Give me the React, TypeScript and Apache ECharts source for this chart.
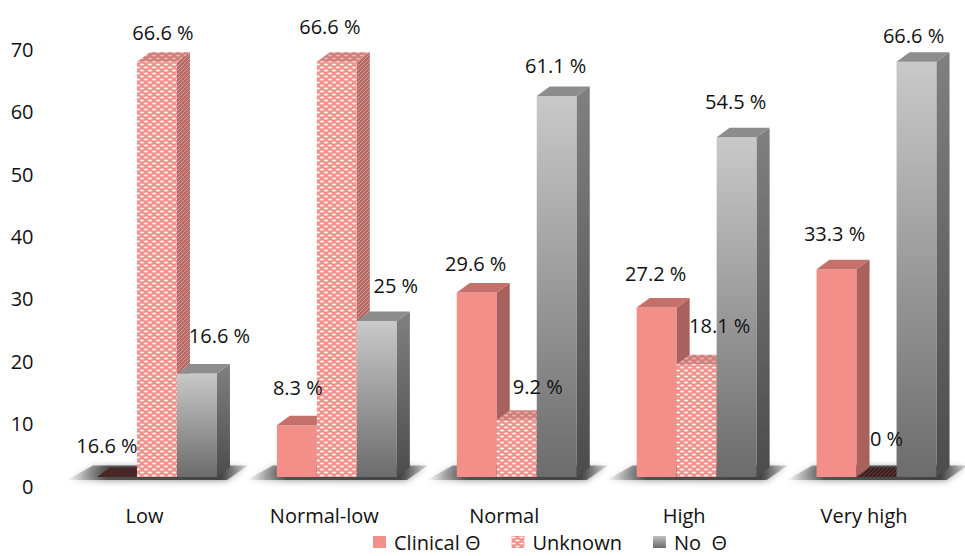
import React, { useEffect, useRef } from 'react';
import * as echarts from 'echarts';

// Categories and the three groups
const categories = ['Low', 'Normal-low', 'Normal', 'High', 'Very high'];
const seriesNames = ['Clinical Θ', 'Unknown', 'No  Θ'];

// Percent values per group
const clinicalValues = [0, 8.3, 29.6, 27.2, 33.3];
const unknownValues = [66.6, 66.6, 9.2, 18.1, 0];
const noValues = [16.6, 25, 61.1, 54.5, 66.6];

// Value labels as printed above each bar
const clinicalLabels = ['16.6 %', '8.3 %', '29.6 %', '27.2 %', '33.3 %'];
const unknownLabels = ['66.6 %', '66.6 %', '9.2 %', '18.1 %', '0 %'];
const noLabels = ['16.6 %', '25 %', '61.1 %', '54.5 %', '66.6 %'];

// Value axis range
const Y_MIN = 0;
const Y_MAX = 70;
const Y_STEP = 10;

// Geometry of the pseudo-3D bars
const BAR_W = 40;
const DX = 13;
const DY = 9.5;
const FRONT_LIFT = 9;
const GROUP_OFFSET = -47.5;

// Hand placement of value labels, [dx, dy] per group and category
const LABEL_NUDGE = [
  [[-13, 2], [-2, -4], [-4, 5], [-4, 0], [-5, -2]],
  [[3, 4], [-10, -2], [18, 0], [20, -5], [7, -5]],
  [[19.5, -4.5], [16, -2.5], [-4, 3], [-4, -2], [-6, 7]],
];

const FONT = "'Open Sans', 'DejaVu Sans', sans-serif";

function makeCanvas(w: number, h: number, draw: (ctx: CanvasRenderingContext2D) => void) {
  const c = document.createElement('canvas');
  c.width = w;
  c.height = h;
  const ctx = c.getContext('2d')!;
  draw(ctx);
  return c;
}

function dotPattern(base: string, dot: string) {
  const c = makeCanvas(8, 6, (ctx) => {
    ctx.fillStyle = base;
    ctx.fillRect(0, 0, 8, 6);
    ctx.fillStyle = dot;
    const dots = [
      [2, 1.5],
      [6, 4.5],
      [-2, 4.5],
      [10, 1.5],
    ];
    for (const [x, y] of dots) {
      ctx.beginPath();
      ctx.ellipse(x, y, 2.2, 1.0, 0, 0, Math.PI * 2);
      ctx.fill();
    }
  });
  return { image: c, repeat: 'repeat', imageWidth: 8, imageHeight: 6 } as any;
}

function stripePattern(base: string, stripe: string) {
  const c = makeCanvas(4, 4, (ctx) => {
    ctx.fillStyle = base;
    ctx.fillRect(0, 0, 4, 4);
    ctx.strokeStyle = stripe;
    ctx.lineWidth = 1;
    ctx.beginPath();
    ctx.moveTo(0, 4);
    ctx.lineTo(4, 0);
    ctx.moveTo(-1, 1);
    ctx.lineTo(1, -1);
    ctx.moveTo(3, 5);
    ctx.lineTo(5, 3);
    ctx.stroke();
  });
  return { image: c, repeat: 'repeat', imageWidth: 4, imageHeight: 4 } as any;
}

export default function App() {
  const ref = useRef<HTMLDivElement>(null);

  useEffect(() => {
    if (!ref.current) return;
    const chart = echarts.init(ref.current, null, { renderer: 'svg' });

    const grayFront = new echarts.graphic.LinearGradient(0, 0, 0, 1, [
      { offset: 0, color: '#c9c9c9' },
      { offset: 1, color: '#6c6c6c' },
    ]);
    const graySide = new echarts.graphic.LinearGradient(0, 0, 0, 1, [
      { offset: 0, color: '#808080' },
      { offset: 1, color: '#4c4c4c' },
    ]);

    const styles = [
      {
        front: '#F28F89',
        side: '#A9615D',
        top: '#C6706B',
        zero: '#4a2626',
        legend: '#F28F89',
      },
      {
        front: dotPattern('#F0928C', '#FFF4F3'),
        side: stripePattern('#B56A66', '#D69893'),
        top: dotPattern('#CF7E79', '#E9B3AF'),
        zero: stripePattern('#3a2222', '#6a3838'),
        legend: dotPattern('#F0928C', '#FFF4F3'),
      },
      {
        front: grayFront,
        side: graySide,
        top: '#8d8d8d',
        zero: '#555555',
        legend: new echarts.graphic.LinearGradient(0, 0, 0, 1, [
          { offset: 0, color: '#c0c0c0' },
          { offset: 1, color: '#6a6a6a' },
        ]),
      },
    ];

    const valueSets = [clinicalValues, unknownValues, noValues];
    const labelSets = [clinicalLabels, unknownLabels, noLabels];

    const barSeries = valueSets.map((vals, s) => ({
      type: 'custom',
      name: seriesNames[s],
      silent: true,
      itemStyle: { color: s === 0 ? '#F28F89' : s === 1 ? '#F4A8A3' : '#999999' },
      encode: { x: 0, y: 1 },
      data: vals.map((v, i) => [i, v]),
      renderItem: (params: any, api: any) => {
        const ci = api.value(0);
        const v = api.value(1);
        const p0 = api.coord([ci, 0]);
        const p1 = api.coord([ci, v]);
        const st = styles[s];
        const xl = p0[0] + GROUP_OFFSET + s * BAR_W;
        const xr = xl + BAR_W;
        const yb = p0[1] - FRONT_LIFT;
        const yt = p1[1] - FRONT_LIFT;
        const children: any[] = [];
        if (v > 0) {
          children.push({
            type: 'rect',
            shape: { x: xl, y: yt, width: BAR_W, height: yb - yt },
            style: { fill: st.front },
          });
          children.push({
            type: 'polygon',
            shape: {
              points: [
                [xr, yt],
                [xr + DX, yt - DY],
                [xr + DX, yb - DY],
                [xr, yb],
              ],
            },
            style: { fill: st.side },
          });
          children.push({
            type: 'polygon',
            shape: {
              points: [
                [xl, yt],
                [xl + DX, yt - DY],
                [xr + DX, yt - DY],
                [xr, yt],
              ],
            },
            style: { fill: st.top },
          });
        } else {
          children.push({
            type: 'polygon',
            shape: {
              points: [
                [xl, yb],
                [xl + DX, yb - DY],
                [xr + DX, yb - DY],
                [xr, yb],
              ],
            },
            style: { fill: st.zero },
          });
        }
        const nudge = LABEL_NUDGE[s][ci];
        children.push({
          type: 'text',
          z2: 100,
          x: (xl + xr) / 2 + 3 + nudge[0],
          y: yt - DY - 24 + nudge[1],
          style: {
            text: labelSets[s][ci],
            font: `20px ${FONT}`,
            fill: '#111111',
            align: 'center',
            verticalAlign: 'middle',
          },
        });
        return { type: 'group', children };
      },
    }));

    // Soft floor shadow under each category group
    const floorSeries = {
      type: 'custom',
      name: 'floor',
      silent: true,
      encode: { x: 0, y: 1 },
      data: categories.map((_, i) => [i, 0]),
      renderItem: (params: any, api: any) => {
        const ci = api.value(0);
        const p0 = api.coord([ci, 0]);
        const xl = p0[0] + GROUP_OFFSET;
        const xr = xl + 3 * BAR_W;
        const yb = p0[1] - FRONT_LIFT;
        return {
          type: 'polygon',
          z2: -10,
          shape: {
            points: [
              [xl - 30, yb + 3],
              [xr + 10, yb + 3],
              [xr + DX + 18, yb - DY - 2],
              [xl - 4, yb - DY - 2],
            ],
          },
          style: {
            fill: new echarts.graphic.LinearGradient(0, 0, 1, 0, [
              { offset: 0, color: 'rgba(90,90,90,0)' },
              { offset: 0.22, color: 'rgba(60,60,60,0.85)' },
              { offset: 0.85, color: 'rgba(55,55,55,0.9)' },
              { offset: 1, color: 'rgba(90,90,90,0.2)' },
            ]),
            shadowBlur: 6,
            shadowColor: 'rgba(0,0,0,0.45)',
            shadowOffsetY: 1,
          },
        };
      },
    };

    chart.setOption({
      animation: false,
      backgroundColor: '#ffffff',
      grid: { left: 54.5, right: 11, top: 49.5, bottom: 70, containLabel: false },
      xAxis: {
        type: 'category',
        data: categories,
        boundaryGap: true,
        axisLine: { show: false },
        axisTick: { show: false },
        splitLine: { show: false },
        axisLabel: {
          margin: 19,
          fontSize: 20,
          fontFamily: FONT,
          color: '#111111',
        },
      },
      yAxis: {
        type: 'value',
        min: Y_MIN,
        max: Y_MAX,
        interval: Y_STEP,
        axisLine: { show: false },
        axisTick: { show: false },
        splitLine: { show: false },
        axisLabel: {
          margin: 21,
          fontSize: 20,
          fontFamily: FONT,
          color: '#111111',
        },
      },
      legend: {
        left: 368,
        top: 527,
        padding: 5,
        icon: 'rect',
        itemWidth: 13,
        itemHeight: 12,
        itemGap: 31,
        textStyle: {
          fontSize: 20,
          lineHeight: 20,
          fontFamily: FONT,
          color: '#111111',
          padding: [0, 0, 0, 3],
        },
        data: seriesNames.map((name, s) => ({ name, itemStyle: { color: styles[s].legend } })),
      },
      series: [floorSeries, ...barSeries],
    });

    return () => {
      chart.dispose();
    };
  }, []);

  return (
    <div
      ref={ref}
      style={{ position: 'fixed', left: 0, top: 0, width: 965, height: 556, background: '#fff' }}
    />
  );
}
